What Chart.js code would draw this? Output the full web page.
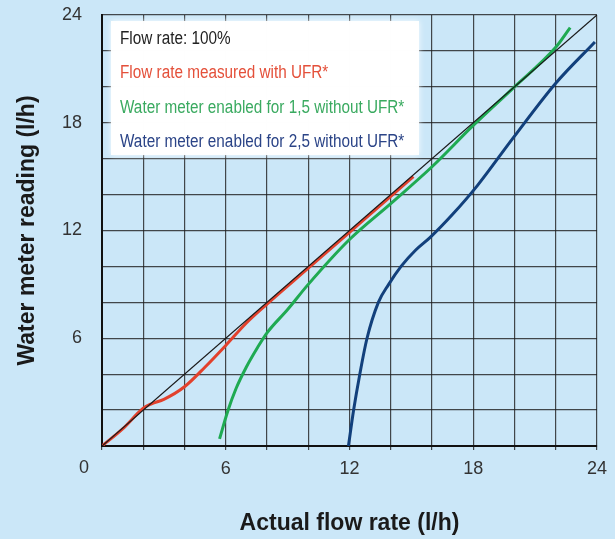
<!DOCTYPE html>
<html>
<head>
<meta charset="utf-8">
<script src="https://cdn.jsdelivr.net/npm/chart.js@4.4.1/dist/chart.umd.min.js"></script>
<style>
  html, body { margin: 0; padding: 0; background: #cbe7f8; }
  #box { width: 615px; height: 539px; position: relative; }
</style>
</head>
<body>
<div id="box"><canvas id="grafico"></canvas></div>
<script>
// Etichette delle serie (come nella legenda)
const seriesLabels = [
    'Flow rate: 100%',
    'Flow rate measured with UFR*',
    'Water meter enabled for 1,5 without UFR*',
    'Water meter enabled for 2,5 without UFR*'
];
const seriesColors = ['#1a1a1a', '#e2412c', '#1faa52', '#12407c'];
const legendColors = ['#222222', '#e4503a', '#3aaa60', '#2b4487'];

// Linea 100%
const diagX = [0, 24];
const diagY = [0, 24];

// Con UFR (rossa)
const redX = [0, 1, 2, 2.4, 3, 4, 5, 6, 7, 8, 10, 12, 14, 15.1];
const redY = [0, 0.95, 2.1, 2.35, 2.6, 3.3, 4.4, 5.6, 6.85, 7.9, 9.9, 11.9, 13.9, 15.0];

// Contatore 1,5 senza UFR (verde)
const greenX = [5.7, 6.1, 6.5, 7.0, 7.55, 8.0, 9.0, 10, 12, 14, 16, 18, 20, 22, 22.7];
const greenY = [0.4, 1.95, 3.2, 4.4, 5.5, 6.3, 7.6, 9.0, 11.5, 13.5, 15.55, 17.85, 20.0, 22.2, 23.3];

// Contatore 2,5 senza UFR (blu)
const blueX = [11.95, 12.2, 12.5, 12.85, 13.4, 13.9, 14.5, 15.2, 15.9, 17.0, 18.2, 19.9, 22.0, 23.9];
const blueY = [0, 2, 4, 6, 8, 9, 10, 10.9, 11.6, 12.9, 14.5, 17.1, 20.2, 22.5];

// Tick
const tickValues = [6, 12, 18, 24];
const originLabel = '0';

function punti(xs, ys) {
    return xs.map((x, i) => ({ x: x, y: ys[i] }));
}

const fontBase = "'Liberation Sans', Arial, Helvetica, sans-serif";

// Sfondo azzurro
const sfondo = {
    id: 'sfondo',
    beforeDraw(chart) {
        const c = chart.ctx;
        c.save();
        c.fillStyle = '#cbe7f8';
        c.fillRect(0, 0, chart.width, chart.height);
        c.restore();
    }
};

// Legenda bianca dentro il grafico + etichetta "0" comune
const legendaBox = {
    id: 'legendaBox',
    afterDraw(chart) {
        const c = chart.ctx;
        const a = chart.chartArea;
        c.save();
        c.shadowColor = 'rgba(255,255,255,0.9)';
        c.shadowBlur = 6;
        c.fillStyle = 'rgba(255,255,255,0.96)';
        c.fillRect(a.left + 9, a.top + 6, 308, 134);
        c.shadowBlur = 0;
        c.font = '18px ' + fontBase;
        c.textAlign = 'left';
        c.textBaseline = 'middle';
        seriesLabels.forEach((lab, i) => {
            // testo stretto tipo Helvetica Narrow
            const w = c.measureText(lab).width * 0.85;
            c.fillStyle = legendColors[i];
            c.fillText(lab, a.left + 18, a.top + 24 + i * 34.4, w);
        });
        // "0" all'origine
        c.fillStyle = '#333';
        c.font = '18px ' + fontBase;
        c.textAlign = 'center';
        c.fillText(originLabel, a.left - 18, a.bottom + 22);
        c.restore();
    }
};

const ctx = document.getElementById('grafico').getContext('2d');
const grafico = new Chart(ctx, {
    type: 'line',
    data: {
        datasets: [{
            label: seriesLabels[0],
            data: punti(diagX, diagY),
            borderColor: seriesColors[0],
            borderWidth: 1.3,
            order: 0
        }, {
            label: seriesLabels[1],
            data: punti(redX, redY),
            borderColor: seriesColors[1],
            borderWidth: 3,
            cubicInterpolationMode: 'monotone',
            order: 1
        }, {
            label: seriesLabels[2],
            data: punti(greenX, greenY),
            borderColor: seriesColors[2],
            borderWidth: 3,
            cubicInterpolationMode: 'monotone',
            order: 2
        }, {
            label: seriesLabels[3],
            data: punti(blueX, blueY),
            borderColor: seriesColors[3],
            borderWidth: 3,
            cubicInterpolationMode: 'monotone',
            order: 3
        }]
    },
    options: {
        responsive: true,
        maintainAspectRatio: false,
        animation: false,
        events: [],
        elements: { point: { radius: 0 } },
        layout: { padding: { top: 15, right: 18, bottom: 2, left: 14 } },
        plugins: {
            legend: { display: false },
            tooltip: { enabled: false }
        },
        scales: {
            x: {
                type: 'linear',
                min: 0,
                max: 24,
                afterFit(scale) { scale.height = 91; },
                border: { display: true, color: '#111', width: 2 },
                grid: { color: 'rgba(30,30,30,0.8)', lineWidth: 1.2, tickLength: 4 },
                ticks: {
                    stepSize: 2,
                    autoSkip: false,
                    maxRotation: 0,
                    padding: 8,
                    color: '#333',
                    font: { family: fontBase, size: 18 },
                    callback: v => tickValues.includes(v) ? String(v) : ''
                },
                title: {
                    display: true,
                    text: 'Actual flow rate (l/h)',
                    color: '#1a1a1a',
                    padding: 0,
                    font: { family: fontBase, size: 23, weight: 'bold' }
                }
            },
            y: {
                type: 'linear',
                min: 0,
                max: 24,
                afterFit(scale) { scale.width = 88; },
                border: { display: true, color: '#111', width: 2 },
                grid: { color: 'rgba(30,30,30,0.8)', lineWidth: 1.2, tickLength: 20, tickColor: 'rgba(0,0,0,0)' },
                ticks: {
                    stepSize: 2,
                    autoSkip: false,
                    padding: 0,
                    color: '#333',
                    font: { family: fontBase, size: 18 },
                    callback: v => tickValues.includes(v) ? String(v) : ''
                },
                title: {
                    display: true,
                    text: 'Water meter reading (l/h)',
                    color: '#1a1a1a',
                    padding: 0,
                    font: { family: fontBase, size: 23, weight: 'bold' }
                }
            }
        }
    },
    plugins: [sfondo, legendaBox]
});
</script>
</body>
</html>
